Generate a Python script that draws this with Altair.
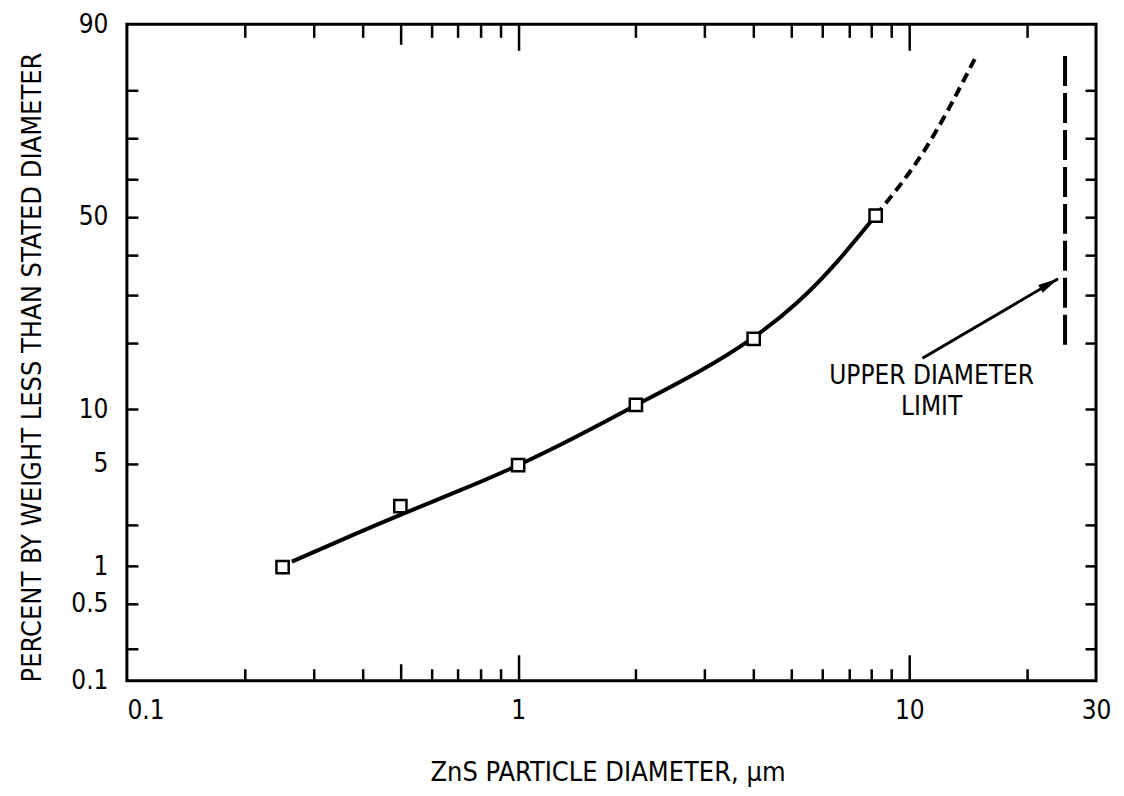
import altair as alt
import pandas as pd
from statistics import NormalDist

ND = NormalDist()


def z(p):
    return ND.inv_cdf(p / 100.0)


# ---- data ----
# measured points (square markers)
diam = [0.25, 0.5, 1.0, 2.0, 4.0, 8.2]
pct = [0.98, 2.7, 4.9, 10.5, 20.8, 50.3]
# hand-drawn smooth curve (solid part)
curve_diam = [0.264, 0.388, 0.492, 0.703, 0.931, 1.276, 1.62, 2.02, 2.94, 4.0, 5.24, 6.52, 8.2]
curve_pct = [1.08, 1.76, 2.32, 3.38, 4.51, 6.39, 8.35, 10.6, 15.2, 20.8, 28.5, 37.8, 50.3]
# extrapolated (dashed) part
dash_diam = [8.2, 11.0, 14.8]
dash_pct = [50.3, 67.5, 85.7]
# upper diameter limit line
limit_diam = [25.0, 25.0]
limit_pct = [19.7, 86.1]
# arrow
arrow_diam = [10.8, 24.0]
arrow_pct = [17.3, 34.0]
# annotation text
note_text = ["UPPER DIAMETER", "LIMIT"]
note_diam = [11.4, 11.4]
note_pct = [14.5, 10.2]

x_labels = [0.1, 1, 10, 30]
x_major_ticks = [1, 10]
x_mid_ticks = [0.5]
x_minor_ticks = [0.2, 0.3, 0.4, 0.6, 0.7, 0.8, 0.9, 2, 3, 4, 5, 6, 7, 8, 9, 20]
y_labels = [0.1, 0.5, 1, 5, 10, 50, 90]
y_ticks = [0.2, 0.5, 1, 2, 5, 10, 20, 30, 40, 50, 60, 70, 80]

FONT = "Liberation Sans Narrow, DejaVu Sans Condensed, Roboto Condensed, Arial Narrow, sans-serif"

W, H = 970, 657

pts_df = pd.DataFrame({"d": diam, "z": [z(p) for p in pct]})
curve_df = pd.DataFrame({"d": curve_diam, "z": [z(p) for p in curve_pct]})
dash_df = pd.DataFrame({"d": dash_diam, "z": [z(p) for p in dash_pct]})
limit_df = pd.DataFrame({"d": limit_diam, "z": [z(p) for p in limit_pct]})
arrow_df = pd.DataFrame({"d": arrow_diam, "z": [z(p) for p in arrow_pct]})
head_df = arrow_df.tail(1)
note_df = pd.DataFrame({"d": note_diam, "z": [z(p) for p in note_pct], "t": note_text})

xscale = alt.Scale(type="log", domain=[0.1, 30], nice=False)
yscale = alt.Scale(domain=[z(0.1), z(90)], nice=False, zero=False)


def tick_axis(orient, values, length):
    return alt.Axis(orient=orient, values=values, offset=-length, tickSize=length,
                    ticks=True, labels=False, domain=False, grid=False, title=None,
                    tickWidth=2.5, tickColor="black")


x_lab_axis = alt.Axis(
    orient="bottom", values=x_labels, ticks=False, domain=False, grid=False,
    labelPadding=17, format="~g", labelFont=FONT, labelFontSize=26, labelColor="black",
    labelAlign={"condition": {"test": "datum.value < 0.2", "value": "left"}, "value": "center"},
    labelOverlap=False, labelFlush=False, labelBound=False,
    title="ZnS PARTICLE DIAMETER, µm", titleX=481, titleY=92, titleFont=FONT,
    titleFontSize=27, titleFontWeight="normal", titleColor="black",
    titleBaseline="middle", titleAlign="center",
)

y_lab_axis = alt.Axis(
    orient="left", values=[z(v) for v in y_labels], ticks=False, domain=False, grid=False,
    labelPadding=19, labelExpr="format(cumulativeNormal(datum.value) * 100, '.2~r')",
    labelFont=FONT, labelFontSize=26, labelColor="black", labelOverlap=False,
    labelBound=False, labelFlush=False,
    title="PERCENT BY WEIGHT LESS THAN STATED DIAMETER", titleX=-94, titleY=343,
    titleAngle=270, titleFont=FONT, titleFontSize=27, titleFontWeight="normal",
    titleColor="black", titleBaseline="middle", titleAlign="center",
)


def X(axis):
    return alt.X("d:Q", scale=xscale, axis=axis)


def Y(axis):
    return alt.Y("z:Q", scale=yscale, axis=axis)


solid = alt.Chart(curve_df).mark_line(
    color="black", strokeWidth=4, interpolate="basis"
).encode(x=X(x_lab_axis), y=Y(y_lab_axis))

dashed = alt.Chart(dash_df).mark_line(
    color="black", strokeWidth=4, interpolate="monotone", strokeDash=[10, 6]
).encode(x=X(tick_axis("bottom", x_major_ticks, 26)), y=Y(tick_axis("left", [z(v) for v in y_ticks], 11)))

points = alt.Chart(pts_df).mark_point(
    shape="square", filled=True, fill="white", stroke="black", strokeWidth=2.5,
    size=150, opacity=1
).encode(x=X(tick_axis("bottom", x_mid_ticks, 17)), y=Y(tick_axis("right", [z(v) for v in y_ticks], 11)))

limit = alt.Chart(limit_df).mark_line(
    color="black", strokeWidth=4, strokeDash=[30, 7]
).encode(x=X(tick_axis("bottom", x_minor_ticks, 12)), y=Y(None))

arrow = alt.Chart(arrow_df).mark_line(color="black", strokeWidth=3).encode(
    x=X(tick_axis("top", x_major_ticks, 26)), y=Y(None))

head = alt.Chart(head_df).mark_point(
    shape="M0,0L0.42,1.9L-0.42,1.9Z", filled=True, fill="black", stroke=None,
    size=460, angle=60, opacity=1
).encode(x=X(tick_axis("top", x_mid_ticks, 20)), y=Y(None))

notes = alt.Chart(note_df).mark_text(
    font=FONT, fontSize=26, color="black", align="center", baseline="middle"
).encode(x=X(tick_axis("top", x_minor_ticks, 13)), y=Y(None), text="t:N")

chart = alt.layer(solid, dashed, points, limit, arrow, head, notes).resolve_axis(
    x="independent", y="independent"
).properties(
    width=W, height=H,
    autosize=alt.AutoSizeParams(type="none"),
    padding={"left": 119, "top": 16, "right": 20, "bottom": 125},
    background="white",
).configure_view(stroke="black", strokeWidth=3)

chart.save("out.html", embed_options={"renderer": "svg", "actions": False})
